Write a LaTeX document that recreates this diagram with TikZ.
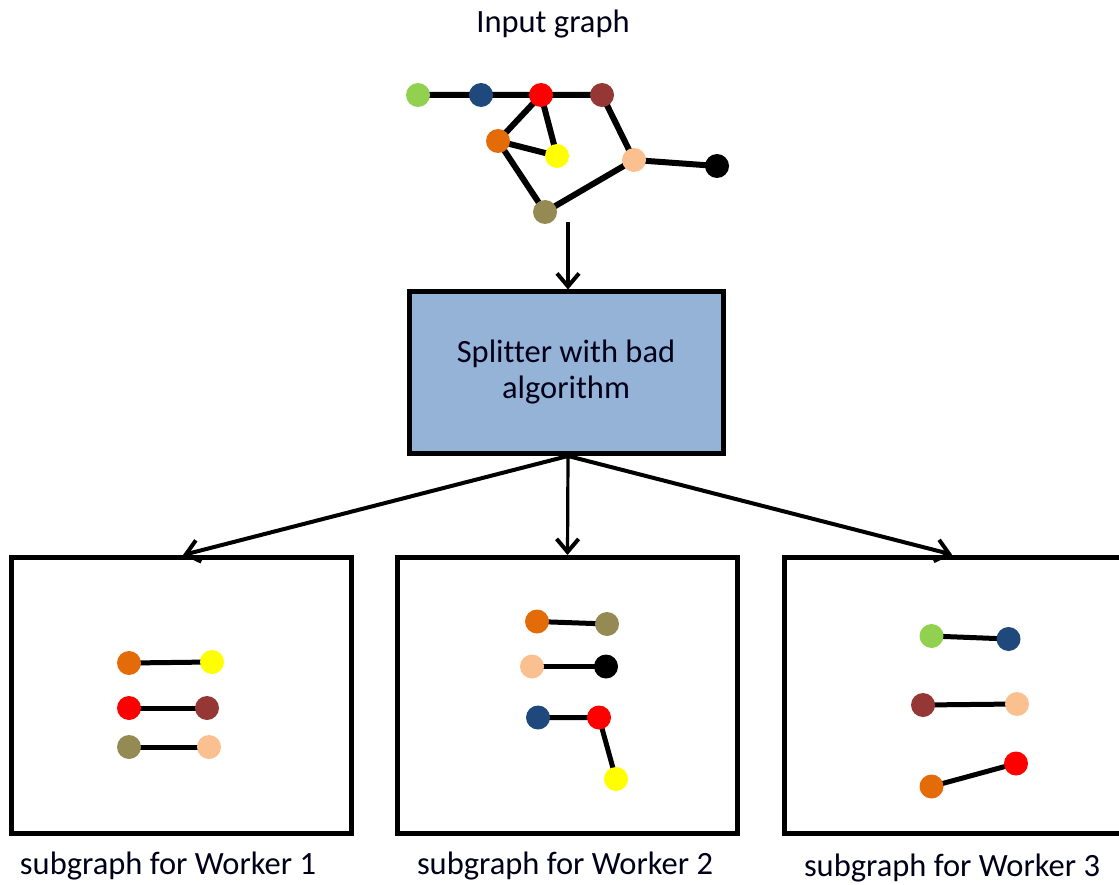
\documentclass[tikz,border=0pt]{standalone}
\usepackage{fontspec}
\setmainfont[Ligatures=NoCommon]{Carlito}
\usetikzlibrary{arrows.meta}
\definecolor{cgreen}{HTML}{92D050}
\definecolor{cblue}{HTML}{1F497D}
\definecolor{cred}{HTML}{FF0000}
\definecolor{cmaroon}{HTML}{953735}
\definecolor{corange}{HTML}{E36C09}
\definecolor{cyellow}{HTML}{FFFF00}
\definecolor{cpeach}{HTML}{FAC090}
\definecolor{colive}{HTML}{948A54}
\definecolor{cblack}{HTML}{000000}
\definecolor{splitfill}{HTML}{95B3D7}
\tikzset{
  vtx/.style={circle, fill=#1, minimum size=24pt, inner sep=0pt},
  edge/.style={line width=6pt},
  subedge/.style={line width=5pt},
  flow/.style={line width=4pt, -{Straight Barb[length=13pt,width=22pt,line width=4pt]}},
  frame/.style={draw, line width=5pt},
  lbl/.style={font=\fontsize{32.5}{36}\selectfont, text=black!90!blue},
}
\begin{document}
\begin{tikzpicture}[x=1pt,y=-1pt]
\useasboundingbox (0,0) rectangle (1119,885);

% title
\node[lbl] (title) at (553,24) {Input graph};

% input graph
\coordinate (pg) at (418,95);
\coordinate (pb) at (481,95);
\coordinate (pr) at (541,95);
\coordinate (pm) at (602,95);
\coordinate (po) at (498,141);
\coordinate (py) at (557,156);
\coordinate (pp) at (634,160);
\coordinate (pk) at (717,166);
\coordinate (pv) at (545,212);
\draw[edge] (pg) -- (pb) -- (pr) -- (pm) -- (pp) -- (pk);
\draw[edge] (pr) -- (po) -- (py) -- (pr);
\draw[edge] (po) -- (pv) -- (pp);
\node[vtx=cgreen] (g) at (pg) {};
\node[vtx=cblue] (b) at (pb) {};
\node[vtx=cred] (r) at (pr) {};
\node[vtx=cmaroon] (m) at (pm) {};
\node[vtx=corange] (o) at (po) {};
\node[vtx=cyellow] (y) at (py) {};
\node[vtx=cpeach] (p) at (pp) {};
\node[vtx=cblack] (k) at (pk) {};
\node[vtx=colive] (v) at (pv) {};

% splitter
\node[draw, line width=5pt, fill=splitfill, minimum width=314pt, minimum height=161pt,
      align=center, lbl] (split) at (566,372.5) {Splitter with bad\\algorithm};
\coordinate (intop) at (568,222);
\draw[flow] (intop) -- (split.north -| intop);

% worker frames
\node[frame, minimum width=340pt, minimum height=276pt] (w1) at (181,695.5) {};
\node[frame, minimum width=340pt, minimum height=276pt] (w2) at (567.5,695.5) {};
\node[frame, minimum width=345pt, minimum height=276pt] (w3) at (957,695) {};

\coordinate (sb) at (568,456);
\draw[flow] (sb) -- ([xshift=2pt]w1.north);
\draw[flow, line width=3.2pt] (sb) -- (w2.north);
\draw[flow] (sb) -- ([xshift=-5pt]w3.north);

% subgraph 1
\draw[subedge] (129,663) -- (212,662);
\draw[subedge] (129,708) -- (207,708);
\draw[subedge] (129,747) -- (209,747);
\node[vtx=corange] (a1) at (129,663) {};
\node[vtx=cyellow] (a2) at (212,662) {};
\node[vtx=cred] (a3) at (129,708) {};
\node[vtx=cmaroon] (a4) at (207,708) {};
\node[vtx=colive] (a5) at (129,747) {};
\node[vtx=cpeach] (a6) at (209,747) {};

% subgraph 2
\draw[subedge] (537,621.5) -- (607,624);
\draw[subedge] (532,666.5) -- (606,666.5);
\draw[subedge] (538,717.5) -- (599,717.5) -- (616,779);
\node[vtx=corange] (b1) at (537,621.5) {};
\node[vtx=colive] (b2) at (607,624) {};
\node[vtx=cpeach] (b3) at (532,666.5) {};
\node[vtx=cblack] (b4) at (606,666.5) {};
\node[vtx=cblue] (b5) at (538,717.5) {};
\node[vtx=cred] (b6) at (599,717.5) {};
\node[vtx=cyellow] (b7) at (616,779) {};

% subgraph 3
\draw[subedge] (931.5,636) -- (1008.5,639);
\draw[subedge] (923,705) -- (1017,704);
\draw[subedge] (931.5,786.5) -- (1016,763.5);
\node[vtx=cgreen] (c1) at (931.5,636) {};
\node[vtx=cblue] (c2) at (1008.5,639) {};
\node[vtx=cmaroon] (c3) at (923,705) {};
\node[vtx=cpeach] (c4) at (1017,704) {};
\node[vtx=corange] (c5) at (931.5,786.5) {};
\node[vtx=cred] (c6) at (1016,763.5) {};

% captions
\node[lbl] (cap1) at (168,866) {subgraph for Worker 1};
\node[lbl] (cap2) at (565,866) {subgraph for Worker 2};
\node[lbl] (cap3) at (952,868) {subgraph for Worker 3};
\end{tikzpicture}
\end{document}
